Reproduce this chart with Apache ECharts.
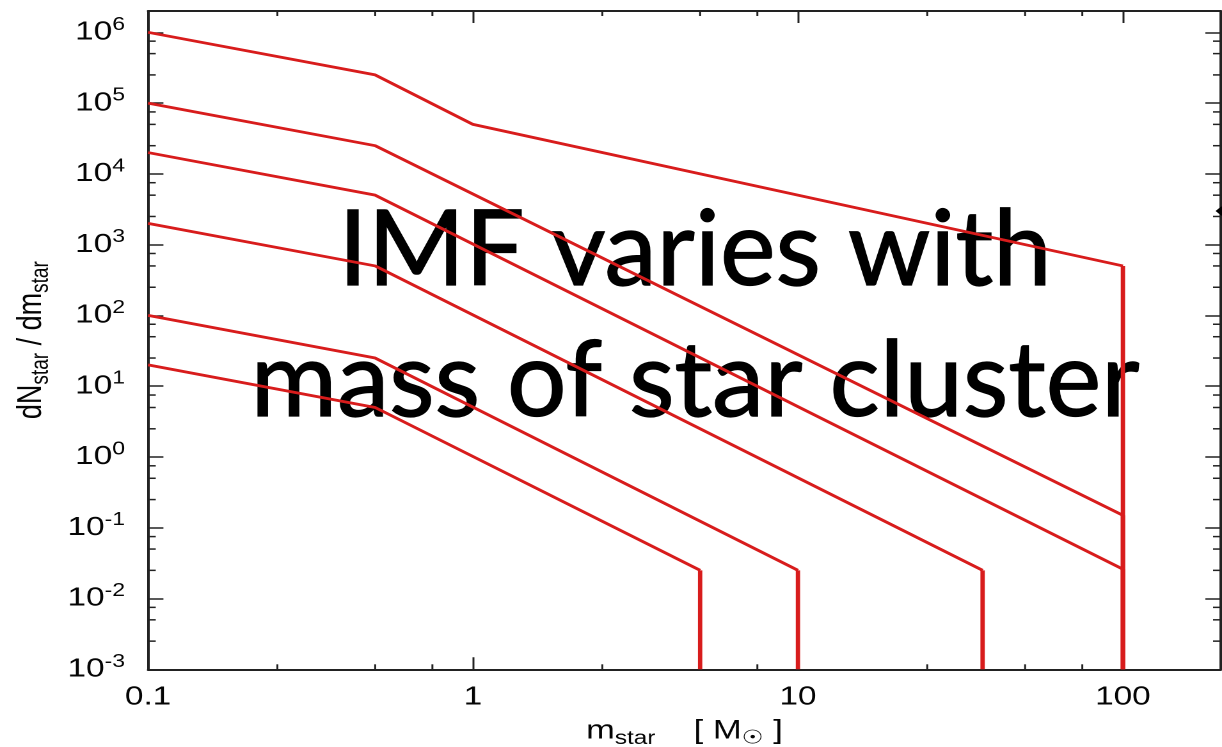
<!DOCTYPE html>
<html>
<head>
<meta charset="utf-8">
<title>IMF varies with mass of star cluster</title>
<script src="https://cdn.jsdelivr.net/npm/echarts@6.0.0/dist/echarts.min.js"></script>
<style>
  html, body { margin: 0; padding: 0; background: #fff; overflow: hidden; }
  #stage { width: 1222px; height: 747px; overflow: hidden; position: relative; }
  /* the plot is laid out in a 955px-wide canvas and widened to the full slide width */
  #chart { width: 955px; height: 747px; transform-origin: 0 0; transform: scaleX(1.279581); }
</style>
</head>
<body>
<div id="stage"><div id="chart"></div></div>
<script>
// Stellar mass (M_sun) at each vertex of the six cluster IMFs, and dN/dm at that vertex
const massA = [0.1, 0.5, 1, 100];
const dndmA = [1e6, 2.5e5, 5e4, 500];
const massB = [0.1, 0.5, 100];
const dndmB = [1e5, 2.5e4, 0.15];
const massC = [0.1, 0.5, 100];
const dndmC = [2e4, 5e3, 0.026];
const massD = [0.1, 0.5, 37];
const dndmD = [2e3, 500, 0.025];
const massE = [0.1, 0.5, 10];
const dndmE = [100, 25, 0.025];
const massF = [0.1, 0.5, 5];
const dndmF = [20, 5, 0.025];

// Axis ranges, tick values and tick labels
const xRange = [0.1, 200];
const yRange = [1e-3, 2e6];
const xTickValues = [0.1, 1, 10, 100];
const xTickLabels = ['0.1', '1', '10', '100'];
const yTickExponents = ['-3', '-2', '-1', '0', '1', '2', '3', '4', '5', '6'];
const xMinorTicks = [0.25, 0.5, 0.75, 2.5, 5, 7.5, 25, 50, 75];
const yMinorTicks = [
  2.5e-3, 5e-3, 7.5e-3, 2.5e-2, 5e-2, 7.5e-2, 0.25, 0.5, 0.75,
  2.5, 5, 7.5, 25, 50, 75, 250, 500, 750,
  2500, 5000, 7500, 2.5e4, 5e4, 7.5e4, 2.5e5, 5e5, 7.5e5
];

const STRETCH = 1222 / 955;
const RED = '#d81c1c';
const INK = '#222';
const TEXT = '#050505';
const LABEL_FONT = 'Liberation Sans, Arial, Helvetica, sans-serif';

const chart = echarts.init(document.getElementById('chart'), null, { devicePixelRatio: 2 });

const curves = [[massA, dndmA], [massB, dndmB], [massC, dndmC], [massD, dndmD], [massE, dndmE], [massF, dndmF]];
const series = [];
curves.forEach(([m, v]) => {
  // power-law segments
  series.push({
    type: 'line', xAxisIndex: 0, yAxisIndex: 0,
    data: m.map((x, k) => [x, v[k]]),
    symbol: 'none', lineStyle: { color: RED, width: 2.8 }, z: 5, animation: false
  });
  // upper-mass cutoff: vertical drop to the bottom of the axis
  const last = m.length - 1;
  series.push({
    type: 'line', xAxisIndex: 0, yAxisIndex: 0,
    data: [[m[last], v[last]], [m[last], yRange[0]]],
    symbol: 'none', lineStyle: { color: RED, width: 3.4 }, z: 5, animation: false
  });
});

// minor ticks (2.5, 5, 7.5 per decade) drawn on all four sides of the frame
series.push({
  type: 'custom', xAxisIndex: 0, yAxisIndex: 0, silent: true, z: 4, clip: false, animation: false,
  data: xMinorTicks.map(x => [x, yRange[0]]),
  renderItem: (params, api) => {
    const b = api.coord([api.value(0), yRange[0]]);
    const t = api.coord([api.value(0), yRange[1]]);
    const st = { stroke: INK, lineWidth: 1.5 };
    return { type: 'group', children: [
      { type: 'line', shape: { x1: b[0], y1: b[1], x2: b[0], y2: b[1] - 5 }, style: st },
      { type: 'line', shape: { x1: t[0], y1: t[1], x2: t[0], y2: t[1] + 5 }, style: st }
    ] };
  }
});
series.push({
  type: 'custom', xAxisIndex: 0, yAxisIndex: 0, silent: true, z: 4, clip: false, animation: false,
  data: yMinorTicks.map(y => [xRange[0], y]),
  renderItem: (params, api) => {
    const l = api.coord([xRange[0], api.value(1)]);
    const r = api.coord([xRange[1], api.value(1)]);
    const st = { stroke: INK, lineWidth: 1.5 };
    return { type: 'group', children: [
      { type: 'line', shape: { x1: l[0], y1: l[1], x2: l[0] + 6, y2: l[1] }, style: st },
      { type: 'line', shape: { x1: r[0], y1: r[1], x2: r[0] - 6, y2: r[1] }, style: st }
    ] };
  }
});

function xLabel(value) {
  const i = xTickValues.findIndex(t => Math.abs(Math.log10(t) - Math.log10(value)) < 1e-6);
  return i < 0 ? '' : xTickLabels[i];
}
function yLabel(value) {
  const e = Math.log10(value);
  const r = Math.round(e);
  if (Math.abs(e - r) > 1e-6) return '';
  const s = String(r);
  return yTickExponents.indexOf(s) < 0 ? '' : '{b|10}{s|' + s + '}';
}

const frameLine = { show: true, lineStyle: { color: INK, width: 2 } };
const tickStyle = { color: INK, width: 1.5 };
const titleStyle = { font: '105px Lato', fill: '#000', stroke: '#000', lineWidth: 1.2, align: 'center', verticalAlign: 'middle' };

const option = {
  animation: false,
  backgroundColor: '#fff',
  grid: { left: 115.7, right: 1.0, top: 11, bottom: 77.7, containLabel: false, outerBoundsMode: 'none' },
  xAxis: [
    {
      type: 'log', logBase: 10, min: xRange[0], max: xRange[1], position: 'bottom',
      axisLine: frameLine,
      axisTick: { inside: true, length: 12, lineStyle: tickStyle },
      minorTick: { show: false },
      splitLine: { show: false },
      axisLabel: {
        formatter: xLabel, margin: 15, fontSize: 26, fontFamily: LABEL_FONT, color: TEXT,
        showMaxLabel: false, showMinLabel: true, hideOverlap: false
      },
      name: '{m|m}{sub|star}{m|    [ M}{sun|☉}{m| ]}',
      nameLocation: 'middle', nameGap: 44,
      nameTextStyle: {
        rich: {
          m: { fontSize: 27, fontFamily: LABEL_FONT, color: TEXT },
          sub: { fontSize: 19, fontFamily: LABEL_FONT, color: TEXT, padding: [16, 0, 0, 0] },
          sun: { fontSize: 19, fontFamily: 'DejaVu Sans', color: TEXT, padding: [16, 0, 0, 0] }
        }
      }
    },
    {
      type: 'log', logBase: 10, min: xRange[0], max: xRange[1], position: 'top',
      axisLine: frameLine,
      axisTick: { inside: true, length: 12, lineStyle: tickStyle },
      axisLabel: { show: false }, splitLine: { show: false }
    }
  ],
  yAxis: [
    {
      type: 'log', logBase: 10, min: yRange[0], max: yRange[1], position: 'left',
      axisLine: frameLine,
      axisTick: { inside: true, length: 12, lineStyle: tickStyle },
      splitLine: { show: false },
      axisLabel: {
        formatter: yLabel, margin: 18, showMaxLabel: false, hideOverlap: false,
        rich: {
          b: { fontSize: 26, fontFamily: LABEL_FONT, color: TEXT },
          s: { fontSize: 18, fontFamily: LABEL_FONT, color: TEXT, padding: [0, 0, 15, 0] }
        }
      },
      name: '{m|dN}{sub|star}{m| / dm}{sub|star}',
      nameLocation: 'middle', nameRotate: 90, nameGap: 64,
      nameTextStyle: {
        rich: {
          m: { fontSize: 27, fontFamily: LABEL_FONT, color: TEXT },
          sub: { fontSize: 19, fontFamily: LABEL_FONT, color: TEXT, padding: [16, 0, 0, 0] }
        }
      }
    },
    {
      type: 'log', logBase: 10, min: yRange[0], max: yRange[1], position: 'right',
      axisLine: frameLine,
      axisTick: { inside: true, length: 12, lineStyle: tickStyle },
      axisLabel: { show: false }, splitLine: { show: false }
    }
  ],
  graphic: [
    {
      type: 'text', x: 695 / STRETCH, y: 251, scaleX: 1 / STRETCH, z: 0,
      style: Object.assign({ text: 'IMF varies with' }, titleStyle)
    },
    {
      type: 'text', x: 695 / STRETCH, y: 382, scaleX: 1 / STRETCH, z: 0,
      style: Object.assign({ text: 'mass of star cluster' }, titleStyle)
    },
    {
      type: 'polygon', z: 10,
      shape: { points: [[950, 211], [954.5, 206.3], [959, 211], [954.5, 215.7]] },
      style: { fill: '#000' }
    }
  ],
  series: series
};

chart.setOption(option);
</script>
</body>
</html>
